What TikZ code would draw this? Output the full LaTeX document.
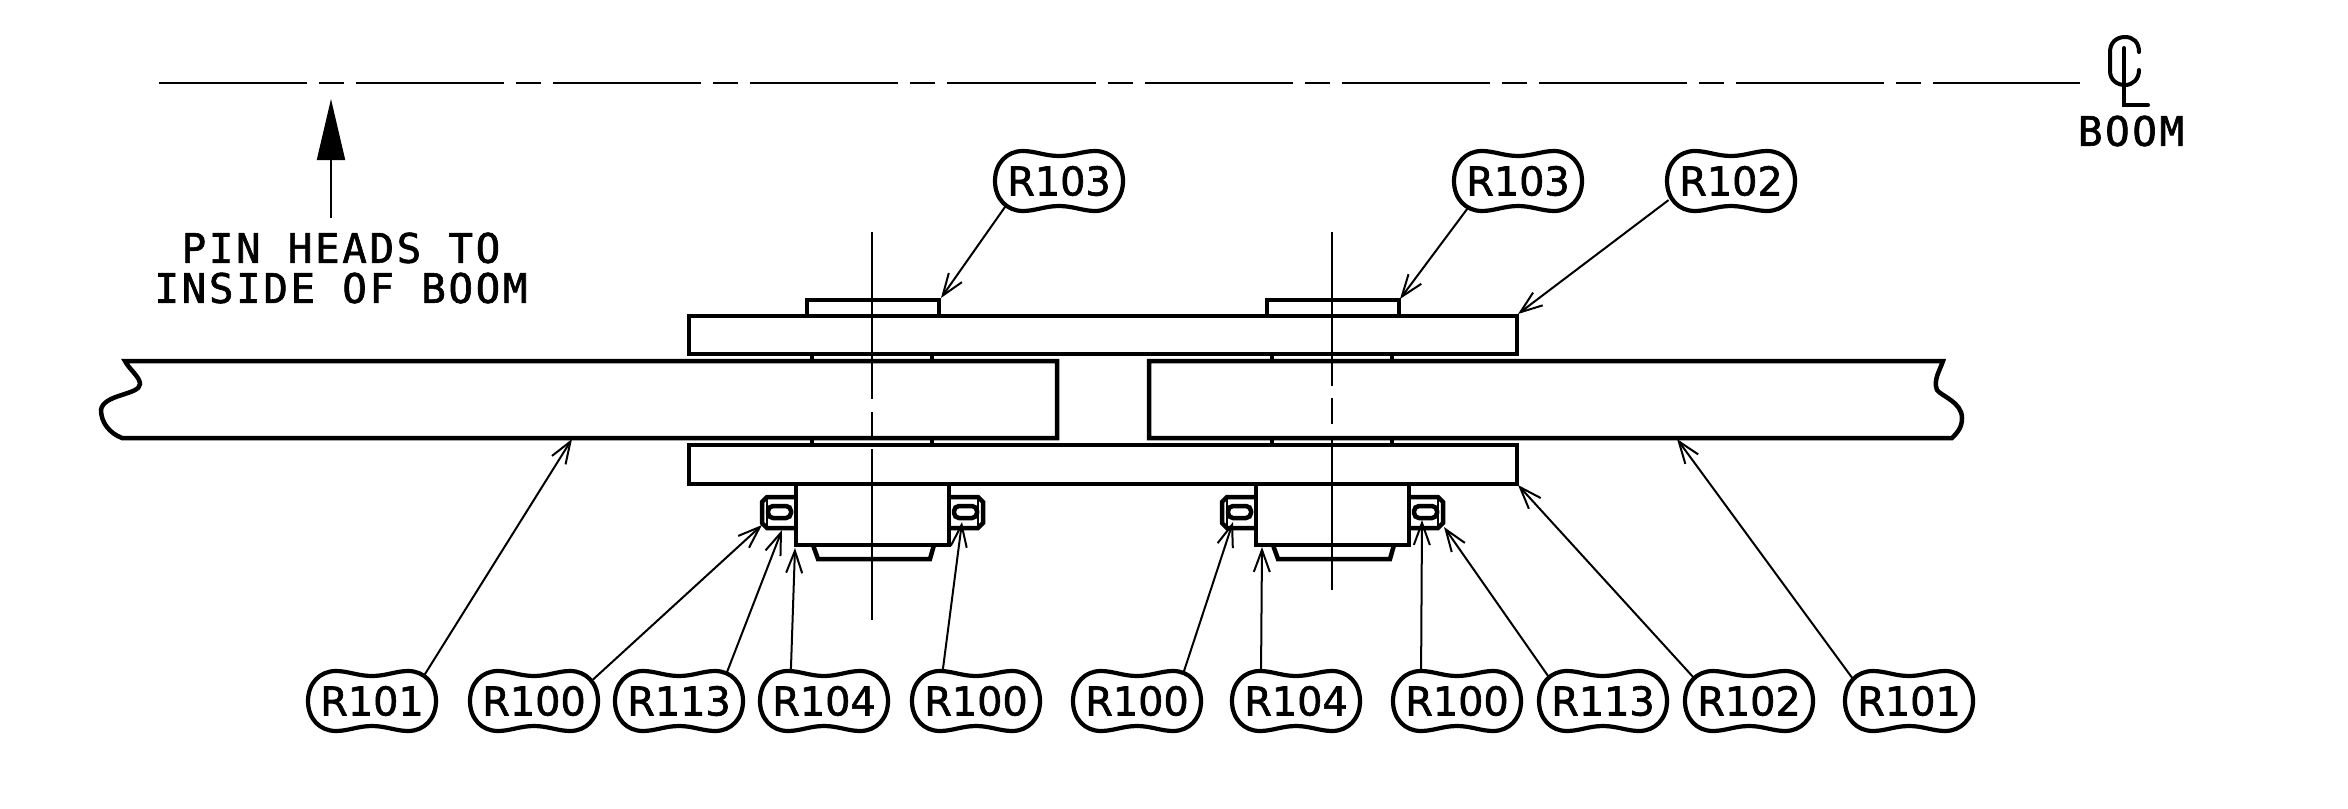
\documentclass[tikz,border=0pt]{standalone}
\usepackage{fontspec}
\usepackage{tikz}
\usetikzlibrary{arrows.meta,shapes.geometric}
\newfontfamily\calloutfont[FakeBold=1.5]{DejaVu Sans}
\newfontfamily\notefont[LetterSpace=6.5,FakeBold=1.5]{DejaVu Sans Mono}

\tikzset{
  part/.style={line width=.045cm},
  hair/.style={line width=.02cm},
  leader/.style={hair, -{Straight Barb[length=.22cm,width=.16cm]}},
  callout/.style={ellipse, inner sep=0pt, minimum width=1.44cm, minimum height=.7cm,
    font=\calloutfont\fontsize{11.3}{11.3}\selectfont},
  note/.style={align=center, inner xsep=0pt, inner ysep=.14cm,
    font=\notefont\fontsize{11.6}{11.4}\selectfont},
  balloon/.pic={
    \draw[line width=.042cm] (-64,0) .. controls (-64,-18) and (-52,-30) .. (-36,-30)
      .. controls (-24,-30) and (-14,-25) .. (0,-25)
      .. controls (14,-25) and (24,-30) .. (36,-30)
      .. controls (52,-30) and (64,-18) .. (64,0)
      .. controls (64,18) and (52,30) .. (36,30)
      .. controls (24,30) and (14,25) .. (0,25)
      .. controls (-14,25) and (-24,30) .. (-36,30)
      .. controls (-52,30) and (-64,18) .. (-64,0) -- cycle;
  },
  nutside/.pic={
    \draw[part] (0,-15) -- (-29,-15) -- (-34,-10) -- (-34,11) -- (-29,16) -- (0,16);
    \draw[part, rounded corners=.05cm] (-28,-6) rectangle (-5,6);
    \draw[hair] (-29,-15) -- (-29,16);
  }
}

\begin{document}
\begin{tikzpicture}[x=.01cm,y=-.01cm]
\useasboundingbox (0,0) rectangle (2348,809);

% Boom centreline
\draw[hair, dash pattern=on 1.48cm off .12cm on .25cm off .12cm] (159,83) -- (2080,83);

% CL symbol
\draw[line width=.04cm, line cap=round] (2139,52) .. controls (2139,42) and (2133,37) .. (2125,37)
  .. controls (2116,37) and (2110,43) .. (2110,52) -- (2110,71)
  .. controls (2110,80) and (2117,85) .. (2125,85)
  .. controls (2133,85) and (2139,79) .. (2139,70);
\draw[line width=.04cm, line cap=round] (2124,48) -- (2124,105) -- (2148,105);
\node[note, inner ysep=0pt] (boomlabel) at (2131,131) {BOOM};

% Pin head note
\node[note] (pinnote) at (341,268) {PIN HEADS TO\\INSIDE OF BOOM};
\coordinate (pintip) at (331,99);
\draw[hair, -{Triangle[length=.61cm,width=.28cm]}] (pinnote.north -| pintip) -- (pintip);

% Side plates
\draw[part] (689,316) rectangle (1517,354);
\draw[part] (689,445) rectangle (1517,484);

% Boom sections
\draw[part] (1057,361) -- (125,361) .. controls (129,369) and (140,377) .. (140,384)
  .. controls (140,395) and (103,394) .. (101,410)
  .. controls (101,422) and (109,433) .. (122,438) -- (1057,438) -- cycle;
\draw[part] (1149,361) -- (1943,361) .. controls (1940,370) and (1933,380) .. (1937,390)
  .. controls (1941,396) and (1962,402) .. (1962,418) .. controls (1962,428) and (1957,433) .. (1952,438)
  -- (1149,438) -- cycle;

% Pin assemblies
\foreach \cx in {872,1332} {
  \begin{scope}[shift={(\cx,0)}]
    \draw[part] (-65,316) -- (-65,300) -- (67,300) -- (67,316);
    \draw[part] (-76,484) -- (-76,545) -- (77,545) -- (77,484);
    \draw[part] (-59,545) -- (-54,559) -- (58,559) -- (62,545);
    \foreach \lx in {-60,60} {
      \draw[part] (\lx,354) -- (\lx,361);
      \draw[part] (\lx,438) -- (\lx,445);
    }
    \pic at (-76,512) {nutside};
    \pic[xscale=-1] at (77,512) {nutside};
  \end{scope}
}

% Pin centrelines
\draw[hair] (872,232) -- (872,399);
\draw[hair] (872,412) -- (872,437);
\draw[hair] (872,449) -- (872,620);
\draw[hair] (1332,232) -- (1332,386);
\draw[hair] (1332,398) -- (1332,424);
\draw[hair] (1332,436) -- (1332,590);

% Callouts
\foreach \nm/\cx/\cy/\lab in {
  rTopA/1059/181/R103, rTopB/1518/181/R103, rPlateA/1731/181/R102,
  rBoomA/372/701/R101, rPinA/534/701/R100, rWashA/679/701/R113, rBushA/824/701/R104,
  rPinB/976/701/R100, rPinC/1137/701/R100, rBushB/1296/701/R104, rPinD/1457/701/R100,
  rWashB/1603/701/R113, rPlateB/1749/701/R102, rBoomB/1909/701/R101} {
  \node[callout] (\nm) at (\cx,\cy) {\lab};
  \pic at (\nm) {balloon};
}

% Leaders
\foreach \nm/\ang/\tx/\ty in {
  rTopA/205/941/298, rTopB/208/1400/299, rPlateA/197/1518/314,
  rBoomA/26/572/439, rPinA/20/762/525, rWashA/30/782/530, rBushA/136/795/548,
  rPinB/136/962/522, rPinC/31/1233/522, rBushB/138/1262/547, rPinD/139/1422/520,
  rWashB/156/1444/527, rPlateB/157/1518/485, rBoomB/158/1677/439} {
  \coordinate (tip\nm) at (\tx,\ty);
  \draw[leader] (\nm.\ang) -- (tip\nm);
}

\end{tikzpicture}
\end{document}
